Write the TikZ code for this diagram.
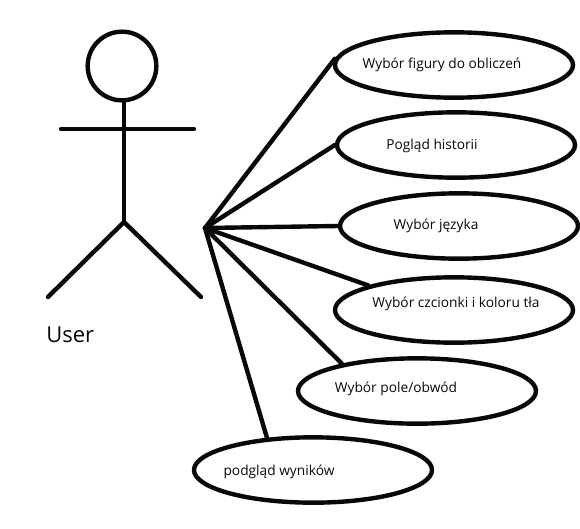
\documentclass[tikz,border=0pt]{standalone}
\usepackage{fontspec}
\setmainfont{Open Sans}
\usepackage{tikz}
\usetikzlibrary{shapes.geometric}
\definecolor{tusz}{RGB}{8, 8, 8}
\tikzset{
  kreska/.style={draw=tusz,line width=3.3pt,line cap=round},
  przypadek/.style={draw=tusz,line width=3.3pt,ellipse,inner sep=0pt,minimum width=178.5pt,minimum height=49pt},
  opis/.style={font=\fontsize{10.3}{12}\selectfont,text=tusz,inner sep=0pt},
}
\begin{document}
\begin{tikzpicture}[x=0.75pt,y=-0.75pt]
  \useasboundingbox (0,0) rectangle (580,528);
  % ludzik
  \node[draw=tusz,line width=3.3pt,circle,minimum size=51.5pt,inner sep=0pt] (glowa) at (122,66) {};
  \coordinate (biodra) at (124,222);
  \coordinate (szyja) at (124,101);
  \coordinate (rekaL) at (61,129);
  \coordinate (rekaP) at (194,129);
  \coordinate (nogaL) at (48,297);
  \coordinate (nogaP) at (201,297);
  \coordinate (hub) at (205,228);
  \draw[kreska] (szyja) -- (biodra);
  \draw[kreska] (rekaL) -- (rekaP);
  \draw[kreska] (nogaL) -- (biodra) -- (nogaP);
  \node[font=\fontsize{16.5}{20}\selectfont,text=tusz,anchor=west,inner sep=0pt] (user) at (46,335) {User};
  % przypadki
  \foreach \nazwa/\cx/\cy/\tx/\ty/\tekst/\kat in {
    a/454/65/442/65/{Wybór figury do obliczeń}/177,
    b/456/145/432/146/{Pogląd historii}/180,
    c/459/226/436/226/{Wybór języka}/180,
    d/454/310/456/304/{Wybór czcionki i koloru tła}/164,
    e/417/391/396/389/{Wybór pole/obwód}/160,
    f/313/470/279/472/{podgląd wyników}/145}{
    \node[przypadek] (u\nazwa) at (\cx,\cy) {};
    \node[opis] (t\nazwa) at (\tx,\ty) {\tekst};
    \draw[kreska] (hub) -- (u\nazwa.\kat);
  }
\end{tikzpicture}
\end{document}
